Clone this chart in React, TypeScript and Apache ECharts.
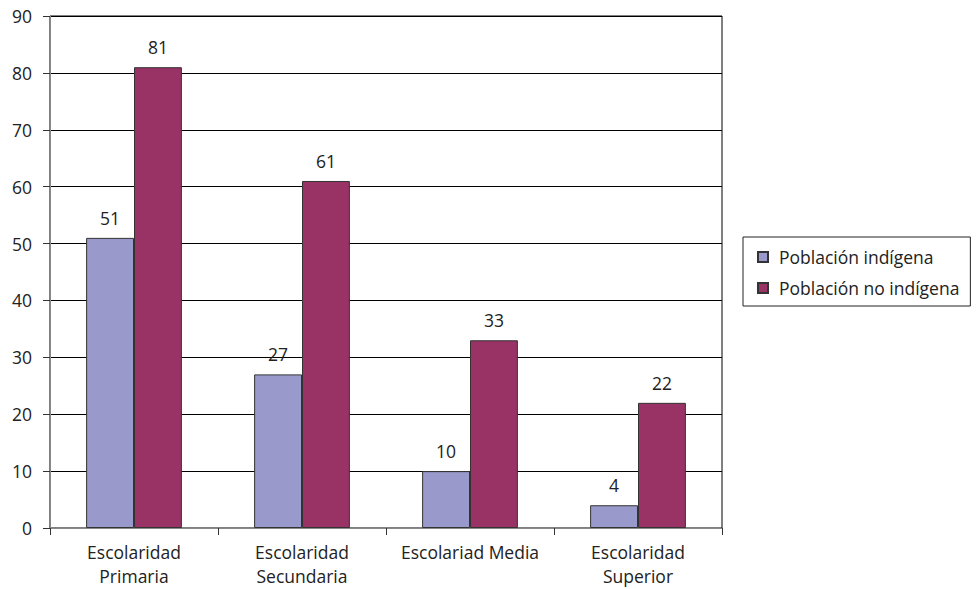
import React, { useEffect, useRef } from "react";
import * as echarts from "echarts";

const categories = ["Escolaridad\nPrimaria", "Escolaridad\nSecundaria", "Escolariad Media", "Escolaridad\nSuperior"];
const seriesNames = ["Población indígena", "Población no indígena"];
const indigena = [51, 27, 10, 4];
const noIndigena = [81, 61, 33, 22];
const colors = ["#9999CC", "#993366"];

const FONT = "Open Sans";
const FS = 17.5;

export default function App() {
  const ref = useRef<HTMLDivElement>(null);
  useEffect(() => {
    if (!ref.current) return;
    const chart = echarts.init(ref.current, undefined, { renderer: "svg" });
    const labelStyle = { show: true, position: "top" as const, distance: 11, color: "#222", fontSize: FS, fontFamily: FONT };
    chart.setOption({
      animation: false,
      textStyle: { fontFamily: FONT },
      grid: { left: 50, right: 257, top: 16, bottom: 61, show: true, borderColor: "#000", borderWidth: 1 },
      legend: {
        orient: "vertical",
        left: 743,
        top: 237,
        padding: [11, 11, 9, 14],
        itemGap: 13,
        itemWidth: 10,
        itemHeight: 10,
        borderColor: "#222",
        borderWidth: 1,
        icon: "rect",
        textStyle: { fontSize: FS, color: "#222", fontFamily: FONT, padding: [0, 0, 0, 6] },
        data: seriesNames,
      },
      xAxis: {
        type: "category",
        data: categories,
        axisLine: { lineStyle: { color: "#888" } },
        axisTick: { show: true, length: 7, lineStyle: { color: "#333" } },
        axisLabel: { interval: 0, margin: 12, fontSize: FS, color: "#222", lineHeight: 24, fontFamily: FONT },
      },
      yAxis: {
        type: "value",
        min: 0,
        max: 90,
        interval: 10,
        axisLine: { show: true, lineStyle: { color: "#888" } },
        axisTick: { show: true, length: 7, lineStyle: { color: "#333" } },
        axisLabel: { margin: 18, fontSize: FS, color: "#222", fontFamily: FONT },
        splitLine: { lineStyle: { color: "#000" } },
      },
      series: [
        {
          name: seriesNames[0],
          type: "bar",
          data: indigena,
          barGap: "0%",
          barCategoryGap: "43%",
          itemStyle: { color: colors[0], borderColor: "#333", borderWidth: 1 },
          label: labelStyle,
        },
        {
          name: seriesNames[1],
          type: "bar",
          data: noIndigena,
          barGap: "0%",
          barCategoryGap: "43%",
          itemStyle: { color: colors[1], borderColor: "#333", borderWidth: 1 },
          label: labelStyle,
        },
      ],
    });
    return () => chart.dispose();
  }, []);
  return <div ref={ref} style={{ width: 979, height: 589, position: "absolute", left: 0, top: 0 }} />;
}
